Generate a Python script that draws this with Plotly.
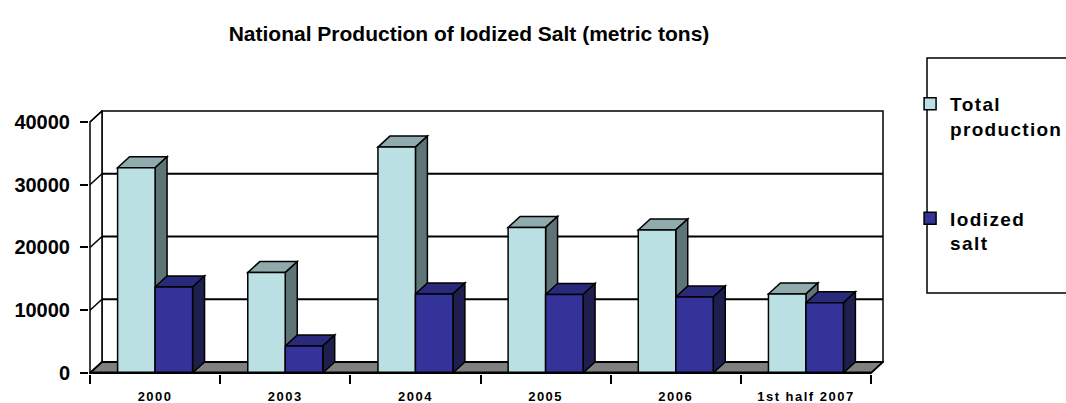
import plotly.graph_objects as go

categories = ["2000", "2003", "2004", "2005", "2006", "1st half 2007"]
total_production = [32700, 16000, 36000, 23200, 22800, 12600]
iodized_salt = [13700, 4300, 12600, 12500, 12100, 11200]
y_ticks = [0, 10000, 20000, 30000, 40000]

# 3-D look parameters
DX = 0.092      # depth offset (category units)
DY = 1750       # depth offset (value units)
BW = 0.288      # bar width (category units)
YMAX = y_ticks[-1]
PADX = 0.0077
PADY = 160

n = len(categories)
idx = list(range(n))
left, right = -0.5, n - 0.5

FONT = "Liberation Sans, Arial, sans-serif"


def sp(text, ls):
    return f'<span style="letter-spacing:{ls}px">{text}</span>'


fig = go.Figure()
fig.add_trace(go.Bar(
    x=idx, y=total_production, width=BW, offset=-BW,
    name=sp("Total", 1.4) + "<br>" + sp("production", 1.3),
    marker=dict(color="#BBE0E3", line=dict(color="black", width=1.5)),
    legendgroup="a"))
fig.add_trace(go.Bar(
    x=idx, y=iodized_salt, width=BW, offset=0,
    name=sp("Iodized", 1.4) + "<br>" + sp("salt", 1.4),
    marker=dict(color="#333399", line=dict(color="black", width=1.5)),
    legendgroup="b"))

shapes = []


def poly(pts, fill, lw=1.5, layer="below"):
    path = "M " + " L ".join(f"{x},{y}" for x, y in pts) + " Z"
    shapes.append(dict(type="path", path=path, xref="x", yref="y",
                       fillcolor=fill, line=dict(color="black", width=lw),
                       layer=layer))


def seg(x0, y0, x1, y1, lw=1.5, layer="below"):
    shapes.append(dict(type="line", x0=x0, y0=y0, x1=x1, y1=y1, xref="x", yref="y",
                       line=dict(color="black", width=lw), layer=layer))


# back wall and left wall
poly([(left + DX, DY), (right + DX, DY), (right + DX, YMAX + DY), (left + DX, YMAX + DY)], "white")
poly([(left, 0), (left, YMAX), (left + DX, YMAX + DY), (left + DX, DY)], "white")
for v in y_ticks[1:-1]:
    seg(left + DX, v + DY, right + DX, v + DY, lw=1.8)
for v in y_ticks:
    seg(left, v, left + DX, v + DY)
# floor
poly([(left, 0), (right, 0), (right + DX, DY), (left + DX, DY)], "#808080", lw=1.8)

# bar tops and sides
for i in idx:
    for vals, off, top_c, side_c in ((total_production, -BW, "#8FABAE", "#5F7476"),
                                     (iodized_salt, 0, "#2A2A7C", "#1F1F4F")):
        v = vals[i]
        x0 = i + off
        x1 = x0 + BW
        poly([(x0, v), (x1, v), (x1 + DX, v + DY), (x0 + DX, v + DY)], top_c)
        poly([(x1, 0), (x1 + DX, DY), (x1 + DX, v + DY), (x1, v)], side_c)

# front baseline
seg(left, 0, right, 0, lw=3, layer="above")

# legend box (extends past right edge like the original)
shapes.append(dict(type="rect", xref="paper", yref="paper",
                   x0=1.0541, x1=1.25, y0=0.3068, y1=1.197,
                   line=dict(color="black", width=1.5), fillcolor="white", layer="below"))

fig.update_layout(
    width=1066, height=403,
    margin=dict(l=89, r=182, t=110, b=29, autoexpand=False),
    paper_bgcolor="white", plot_bgcolor="rgba(0,0,0,0)",
    barmode="overlay",
    shapes=shapes,
    title=dict(text="National Production of Iodized Salt (metric tons)",
               x=0.478, xref="paper", xanchor="center",
               y=1 - 34 / 403, yref="container", yanchor="middle",
               font=dict(family=FONT, size=21, color="black", weight="bold")),
    xaxis=dict(range=[left - PADX, right + DX + PADX], showgrid=False, zeroline=False,
               showline=False, tickvals=idx, ticktext=[sp(c, 1.5) for c in categories],
               ticks="", ticklabelstandoff=13,
               tickfont=dict(family=FONT, size=13, color="black", weight="bold"),
               minor=dict(tickvals=[i - 0.5 for i in range(n + 1)], ticks="outside",
                          ticklen=9, tickwidth=1.5, tickcolor="black"),
               fixedrange=True),
    yaxis=dict(range=[-PADY, YMAX + DY + PADY], showgrid=False, zeroline=False,
               showline=False, tickvals=y_ticks, ticktext=[str(v) for v in y_ticks],
               ticks="outside", ticklen=8,
               tickwidth=1.5, tickcolor="black", ticklabelstandoff=6,
               tickfont=dict(family=FONT, size=20, color="black", weight="bold"),
               fixedrange=True),
    legend=dict(x=1.0328, y=1.0947, xanchor="left", yanchor="top",
                bgcolor="rgba(0,0,0,0)", borderwidth=0,
                traceorder="grouped", tracegroupgap=62, valign="top",
                font=dict(family=FONT, size=19, color="black", weight="bold")),
    showlegend=True,
)

fig.write_html("out.html", config={"displayModeBar": False},
               post_script="document.body.style.margin='0px';")
